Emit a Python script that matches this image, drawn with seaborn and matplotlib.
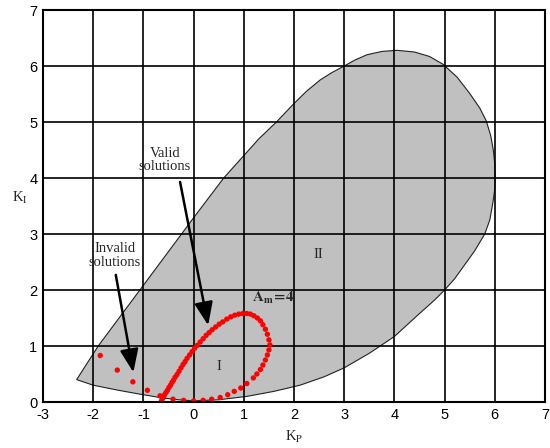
import matplotlib
matplotlib.use("Agg")
import matplotlib.pyplot as plt
import seaborn as sns
import pandas as pd

sns.set_theme(style="white")
plt.rcParams["font.family"] = ["Liberation Sans", "DejaVu Sans"]
plt.rcParams["mathtext.fontset"] = "stix"

# Boundary of the stabilising region in the (Kp, Ki) plane
region_kp = [-2.33, -2.0, -1.5, -1.07, -0.6, -0.3, 0.0, 0.5, 1.06, 1.6, 2.12, 2.6, 3.0,
             3.5, 4.0, 4.5, 4.8, 5.0, 5.2, 5.4, 5.6, 5.8, 5.9, 5.96, 6.0, 6.01, 6.0,
             5.97, 5.92, 5.83, 5.7, 5.5, 5.25, 4.97, 4.7, 4.4, 4.05, 3.75, 3.45, 3.2,
             3.0, 2.75, 2.52, 2.25, 2.0, 1.65, 1.3, 1.0, 0.6, 0.0, -0.24, -1.07, -1.9,
             -2.0, -2.33]
region_ki = [0.40, 0.30, 0.21, 0.14, 0.07, 0.04, 0.02, 0.04, 0.10, 0.19, 0.30, 0.45, 0.61,
             0.87, 1.17, 1.58, 1.82, 2.0, 2.2, 2.45, 2.7, 3.0, 3.25, 3.55, 3.8, 4.0, 4.25,
             4.5, 4.75, 5.02, 5.25, 5.51, 5.8, 6.03, 6.17, 6.25, 6.28, 6.26, 6.2, 6.1,
             6.0, 5.88, 5.75, 5.55, 5.33, 5.0, 4.7, 4.4, 4.0, 3.29, 3.0, 2.0, 1.0,
             0.86, 0.40]

# Gain-margin locus Am = 4
am_kp = [-0.64, -0.62, -0.60, -0.58, -0.55, -0.52, -0.49, -0.46, -0.43, -0.40, -0.37,
         -0.33, -0.29, -0.25, -0.21, -0.17, -0.13, -0.08, -0.03, 0.02, 0.07, 0.13, 0.19,
         0.25, 0.31, 0.37, 0.44, 0.51, 0.58, 0.66, 0.74, 0.82, 0.90, 0.98, 1.06, 1.13,
         1.20, 1.27, 1.33, 1.38, 1.43, 1.47, 1.50, 1.52, 1.50, 1.47, 1.43, 1.38, 1.33,
         1.26, 1.19, 1.06, 0.94, 0.81, 0.68, 0.53, 0.36, 0.19, 0.00, -0.20, -0.41]
am_ki = [0.02, 0.06, 0.09, 0.13, 0.17, 0.21, 0.26, 0.30, 0.35, 0.39, 0.44,
         0.49, 0.55, 0.61, 0.67, 0.72, 0.78, 0.84, 0.90, 0.96, 1.01, 1.07, 1.13,
         1.19, 1.24, 1.29, 1.34, 1.39, 1.43, 1.48, 1.52, 1.55, 1.57, 1.58, 1.58, 1.57,
         1.54, 1.50, 1.45, 1.38, 1.30, 1.21, 1.11, 1.02, 0.93, 0.84, 0.75, 0.66, 0.58,
         0.50, 0.43, 0.33, 0.25, 0.19, 0.13, 0.08, 0.05, 0.03, 0.02, 0.03, 0.05]

# Points of the locus outside the admissible branch
bad_kp = [-1.86, -1.52, -1.21, -0.92, -0.67]
bad_ki = [0.83, 0.57, 0.36, 0.21, 0.11]

x_ticks = [-3, -2, -1, 0, 1, 2, 3, 4, 5, 6, 7]
y_ticks = [0, 1, 2, 3, 4, 5, 6, 7]

fig = plt.figure(figsize=(5.5, 4.48), dpi=100)
ax = fig.add_axes([43 / 550, 46 / 448, 502 / 550, 392 / 448])

ax.fill(region_kp, region_ki, facecolor="#c0c0c0", edgecolor="#222222", lw=0.8, zorder=1)

dots = pd.DataFrame({"Kp": am_kp + bad_kp, "Ki": am_ki + bad_ki})
sns.scatterplot(data=dots, x="Kp", y="Ki", ax=ax, color="#ff0000", s=15,
                edgecolor="none", linewidth=0, zorder=4, legend=False)

ax.set_xlim(-3, 7)
ax.set_ylim(0, 7)
ax.set_xticks(x_ticks)
ax.set_yticks(y_ticks)
ax.set_xticklabels([str(v) for v in x_ticks])
ax.set_yticklabels([str(v) for v in y_ticks])
ax.grid(True, color="black", lw=1.2, zorder=3)
ax.set_axisbelow(False)
for sp in ax.spines.values():
    sp.set_color("black")
    sp.set_linewidth(1.5)
    sp.set_zorder(5)
ax.tick_params(length=0, pad=4, labelsize=10.5, colors="black")

serif = ["Liberation Serif", "DejaVu Serif"]
ax.set_xlabel(r"K$_{\rm P}$", family=serif, fontsize=10.5, labelpad=5)
ax.set_ylabel(r"K$_{\rm I}$", family=serif, fontsize=10.5, rotation=0, labelpad=7)

arrow_style = dict(arrowstyle="-|>,head_length=1.0,head_width=0.4", color="black",
                   lw=1.8, mutation_scale=14, shrinkA=0, shrinkB=0)
ax.annotate("", xy=(0.29, 1.37), xytext=(-0.27, 3.93), arrowprops=arrow_style, zorder=6)
ax.annotate("", xy=(-1.2, 0.53), xytext=(-1.55, 2.27), arrowprops=arrow_style, zorder=6)

ax.text(-0.57, 4.32, "Valid\nsolutions", family=serif, fontsize=10.5, ha="center",
        va="center", linespacing=1.05, zorder=6)
ax.text(-1.57, 2.62, "Invalid\nsolutions", family=serif, fontsize=10.5, ha="center",
        va="center", linespacing=1.05, zorder=6)
ax.text(2.48, 2.64, "II", family=serif, fontsize=10.5, ha="center", va="center", zorder=6)
ax.text(0.51, 0.63, "I", family=serif, fontsize=10.5, ha="center", va="center", zorder=6)
ax.text(1.17, 1.85, r"$\mathbf{A_m\!=\!4}$", fontsize=11, ha="left", va="center", zorder=6)

fig.savefig("out.png", dpi=100)
